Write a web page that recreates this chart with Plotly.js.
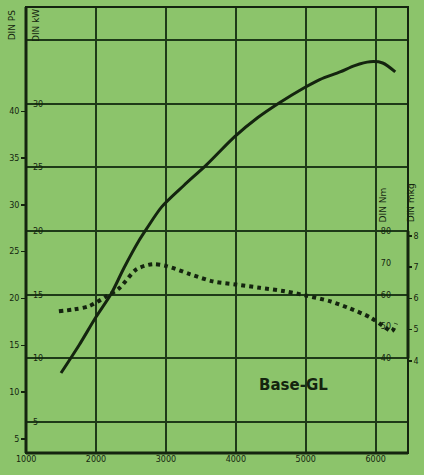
<!DOCTYPE html>
<html><head><meta charset="utf-8">
<script src="https://cdn.plot.ly/plotly-3.0.1.min.js"></script>
<style>html,body{margin:0;padding:0;background:#8cc46b;}#chart{width:424px;height:475px;}</style>
</head><body><div id="chart"></div>
<script>
// Data
const rpmPower = [1500, 1760, 2000, 2220, 2400, 2620, 2720, 2940, 3260, 3580, 3980, 4310, 4630, 4960, 5200, 5490, 5700, 5920, 6100, 6280];
const powerKW  = [8.85, 11.05, 13.25, 15.1, 17.1, 19.3, 20.15, 21.9, 23.6, 25.2, 27.4, 28.9, 30.1, 31.2, 31.9, 32.5, 33.0, 33.3, 33.2, 32.5];
const rpmTorque = [1470, 1690, 1900, 2150, 2330, 2580, 2810, 3010, 3340, 3670, 4010, 4340, 4700, 4990, 5340, 5630, 5920, 6130, 6230, 6290];
const torqueNm  = [54.8, 55.4, 56.4, 59.5, 62.0, 68.0, 69.6, 69.0, 66.5, 64.2, 63.2, 62.2, 61.1, 59.8, 58.0, 55.7, 52.9, 49.8, 48.5, 51.0];
const rpmTicks = [1000, 2000, 3000, 4000, 5000, 6000];
const kwTicks = [5, 10, 15, 20, 25, 30, 35];
const kwTickText = ['5', '10', '15', '20', '25', '30', ''];
const psTicks = [5, 10, 15, 20, 25, 30, 35, 40];
const nmTicks = [40, 50, 60, 70, 80];
const mkgTicks = [4, 5, 6, 7, 8];
const label = 'Base-GL';

const ink = '#14240f';
const grid = '#1e3a18';
const bg = '#8cc46b';
const kwRange = [2.57, 37.6];
const nmRange = [kwRange[0] * 4, kwRange[1] * 4];
const psRange = [kwRange[0] * 1.36, kwRange[1] * 1.36];
const mkgRange = [nmRange[0] / 9.81, nmRange[1] / 9.81];
const tf = {family: 'DejaVu Sans', size: 8, color: ink};

const traces = [
  {x: rpmPower, y: powerKW, type: 'scatter', mode: 'lines', line: {color: ink, width: 3, shape: 'spline', smoothing: 0.8}, xaxis: 'x', yaxis: 'y', hoverinfo: 'skip'},
  {x: rpmTorque, y: torqueNm, type: 'scatter', mode: 'lines', line: {color: ink, width: 4, dash: 'dot', shape: 'spline', smoothing: 0.8}, xaxis: 'x', yaxis: 'y2', hoverinfo: 'skip'},
  {x: [rpmTicks[0]], y: [psTicks[0]], type: 'scatter', mode: 'markers', marker: {opacity: 0}, xaxis: 'x', yaxis: 'y3', hoverinfo: 'skip'},
  {x: [rpmTicks[0]], y: [mkgTicks[0]], type: 'scatter', mode: 'markers', marker: {opacity: 0}, xaxis: 'x', yaxis: 'y4', hoverinfo: 'skip'}
];

const layout = {
  width: 424, height: 475,
  margin: {l: 26, r: 16, t: 7, b: 22},
  paper_bgcolor: bg, plot_bgcolor: bg,
  showlegend: false,
  xaxis: {range: [999.5, 6462], tickvals: rpmTicks, ticktext: rpmTicks.map(String), tickfont: tf,
          showgrid: true, gridcolor: grid, gridwidth: 2, zeroline: false, showline: false, ticks: '', ticklen: 0},
  yaxis: {range: kwRange, tickvals: kwTicks, ticktext: kwTickText, tickfont: tf, ticklabelposition: 'inside', ticklabelstandoff: 4,
          showgrid: true, gridcolor: grid, gridwidth: 2, zeroline: false, showline: false, ticks: ''},
  yaxis3: {range: psRange, overlaying: 'y', anchor: 'x', side: 'left', tickvals: psTicks,
           tickfont: tf, ticks: 'outside', ticklen: 4, tickcolor: ink, tickwidth: 1.5, showgrid: false, zeroline: false, showline: false},
  yaxis2: {range: nmRange, overlaying: 'y', anchor: 'x', side: 'right', tickvals: nmTicks, tickfont: tf, ticklabelposition: 'inside', ticklabelstandoff: 14,
           showgrid: false, zeroline: false, showline: false, ticks: ''},
  yaxis4: {range: mkgRange, overlaying: 'y', anchor: 'x', side: 'right', tickvals: mkgTicks,
           tickfont: tf, ticks: 'outside', ticklen: 3, tickcolor: ink, tickwidth: 1.5, showgrid: false, zeroline: false, showline: false},
  shapes: [
    {type: 'rect', xref: 'paper', yref: 'paper', x0: 0, x1: 1, y0: 0, y1: 1, line: {color: ink, width: 2}},
    {type: 'line', xref: 'paper', yref: 'paper', x0: 0, x1: 0, y0: 0, y1: 1, line: {color: ink, width: 3}},
    {type: 'line', xref: 'paper', yref: 'paper', x0: 0, x1: 1, y0: 0, y1: 0, line: {color: ink, width: 3}},
    {type: 'line', xref: 'paper', yref: 'y2', x0: 1, x1: 1, y0: nmTicks[0], y1: nmTicks[nmTicks.length - 1], line: {color: ink, width: 3}}
  ],
  annotations: [
    {text: String(rpmTicks[0]), xref: 'x', yref: 'paper', x: rpmTicks[0], y: 0, yanchor: 'top', yshift: 0, showarrow: false, font: tf},
    {text: 'DIN PS', xref: 'paper', yref: 'paper', x: -0.037, y: 1, yanchor: 'top', xanchor: 'center', textangle: -90, showarrow: false, font: {family: 'DejaVu Sans', size: 9, color: ink}},
    {text: 'DIN kW', xref: 'paper', yref: 'paper', x: 0.025, y: 1, yanchor: 'top', xanchor: 'center', textangle: -90, showarrow: false, font: {family: 'DejaVu Sans', size: 9, color: ink}},
    {text: 'DIN Nm', xref: 'paper', yref: 'y2', x: 0.935, y: 82, yanchor: 'bottom', xanchor: 'center', textangle: -90, showarrow: false, font: {family: 'DejaVu Sans', size: 9, color: ink}},
    {text: 'DIN mkg', xref: 'paper', yref: 'y2', x: 1.008, y: 82, yanchor: 'bottom', xanchor: 'center', textangle: -90, showarrow: false, font: {family: 'DejaVu Sans', size: 9, color: ink}},
    {text: '<b>' + label + '</b>', xref: 'x', yref: 'y', x: 4830, y: 7.9, showarrow: false, font: {family: 'DejaVu Sans', size: 15, color: ink}}
  ]
};
Plotly.newPlot('chart', traces, layout, {staticPlot: true, displayModeBar: false});
</script></body></html>
